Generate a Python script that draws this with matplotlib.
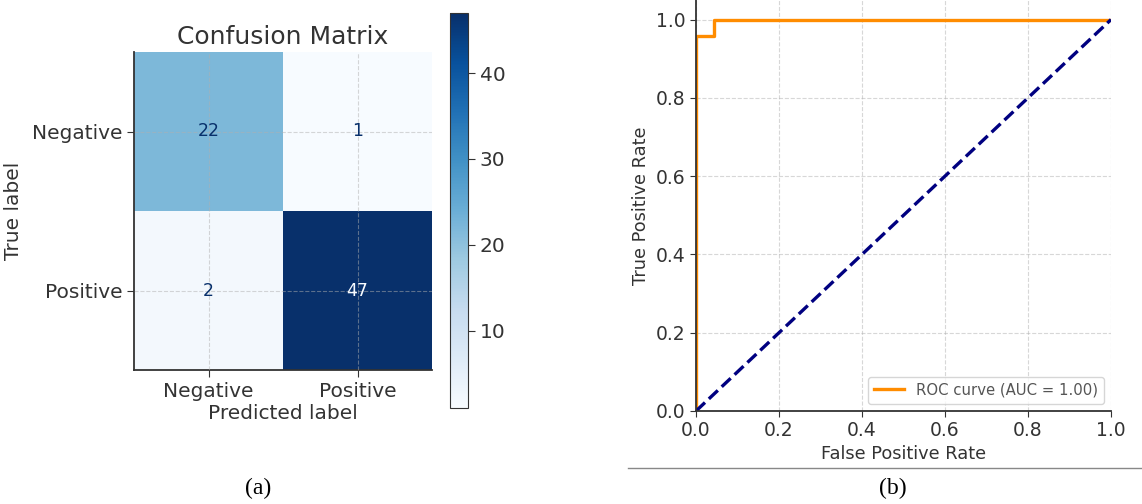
import matplotlib
matplotlib.use("Agg")
import matplotlib.pyplot as plt
import numpy as np

# ==========================
# data
# ==========================
class_names = ["Negative", "Positive"]
cm_values = np.array([[22, 1],
                      [2, 47]])

fpr = [0.0, 0.0, 0.0435, 0.0435, 1.0]
tpr = [0.0, 0.959, 0.959, 1.0, 1.0]
roc_auc = 1.00

W, H = 1142, 504
text_col = "#333333"

plt.rcParams["font.family"] = "DejaVu Sans"
plt.rcParams["text.color"] = text_col
plt.rcParams["axes.labelcolor"] = text_col
plt.rcParams["xtick.color"] = text_col
plt.rcParams["ytick.color"] = text_col

fig = plt.figure(figsize=(W / 100, H / 100), dpi=100)


def px_axes(x0, y0, x1, y1):
    return fig.add_axes([x0 / W, 1 - y1 / H, (x1 - x0) / W, (y1 - y0) / H])


# ==========================
# (a) confusion matrix
# ==========================
ax1 = px_axes(134, 52, 432, 370)
cmap = plt.get_cmap("Blues")
im = ax1.imshow(cm_values, cmap=cmap, vmin=cm_values.min(), vmax=cm_values.max(),
                aspect="auto")

thresh = (cm_values.max() + cm_values.min()) / 2
for i in range(cm_values.shape[0]):
    for j in range(cm_values.shape[1]):
        c = cmap(0.0) if cm_values[i, j] > thresh else cmap(1.0)
        ax1.text(j, i, str(cm_values[i, j]), ha="center", va="center",
                 color=c, fontsize=12.5)

ax1.set_xticks(range(len(class_names)))
ax1.set_yticks(range(len(class_names)))
ax1.set_xticklabels(class_names)
ax1.set_yticklabels(class_names)
ax1.tick_params(labelsize=14.5, length=5, color=text_col)
ax1.set_xlabel("Predicted label", fontsize=14.5, labelpad=2)
ax1.set_ylabel("True label", fontsize=14.5, labelpad=6)
ax1.set_title("Confusion Matrix", fontsize=18, pad=6)
ax1.grid(True, linestyle="--", color="#b0b0b0", alpha=0.5, linewidth=0.8)
ax1.set_axisbelow(False)
for s in ["top", "right"]:
    ax1.spines[s].set_visible(False)
for s in ["left", "bottom"]:
    ax1.spines[s].set_color(text_col)
    ax1.spines[s].set_linewidth(1.3)

cax = px_axes(450, 13, 468, 408)
cb = fig.colorbar(im, cax=cax)
cb.set_ticks([10, 20, 30, 40])
cb.ax.tick_params(labelsize=14.5, length=5, color=text_col)
cb.outline.set_edgecolor(text_col)

# ==========================
# (b) ROC curve
# ==========================
ax2 = px_axes(696, 0, 1111, 411)
ax2.plot(fpr, tpr, color="darkorange", lw=2.4,
         label=f"ROC curve (AUC = {roc_auc:.2f})")
ax2.plot([0, 1], [0, 1], color="navy", lw=2.4, linestyle="--")
ax2.set_xlim(0.0, 1.0)
ax2.set_ylim(0.0, 1.05)
ax2.set_xticks(np.arange(0, 1.01, 0.2))
ax2.set_yticks(np.arange(0, 1.01, 0.2))
ax2.tick_params(labelsize=13.5, length=4, color=text_col)
ax2.set_xlabel("False Positive Rate", fontsize=12.8, labelpad=3)
ax2.set_ylabel("True Positive Rate", fontsize=12.8, labelpad=4)
ax2.grid(True, linestyle="--", color="#b0b0b0", alpha=0.5, linewidth=0.8)
for s in ["top", "right"]:
    ax2.spines[s].set_visible(False)
for s in ["left", "bottom"]:
    ax2.spines[s].set_color(text_col)
    ax2.spines[s].set_linewidth(1.3)
leg = ax2.legend(loc="lower right", fontsize=10.7, frameon=True)
for t in leg.get_texts():
    t.set_color("#555555")

# ==========================
# captions
# ==========================
fig.add_artist(plt.Line2D([628 / W, 1.0], [1 - 468 / H, 1 - 468 / H],
                          color="#888888", lw=1))
fig.text(258 / W, 1 - 488 / H, "(a)", ha="center", va="center",
         family="Liberation Serif", fontsize=17, color="black")
fig.text(893 / W, 1 - 488 / H, "(b)", ha="center", va="center",
         family="Liberation Serif", fontsize=17, color="black")

fig.savefig("out.png", dpi=100)
